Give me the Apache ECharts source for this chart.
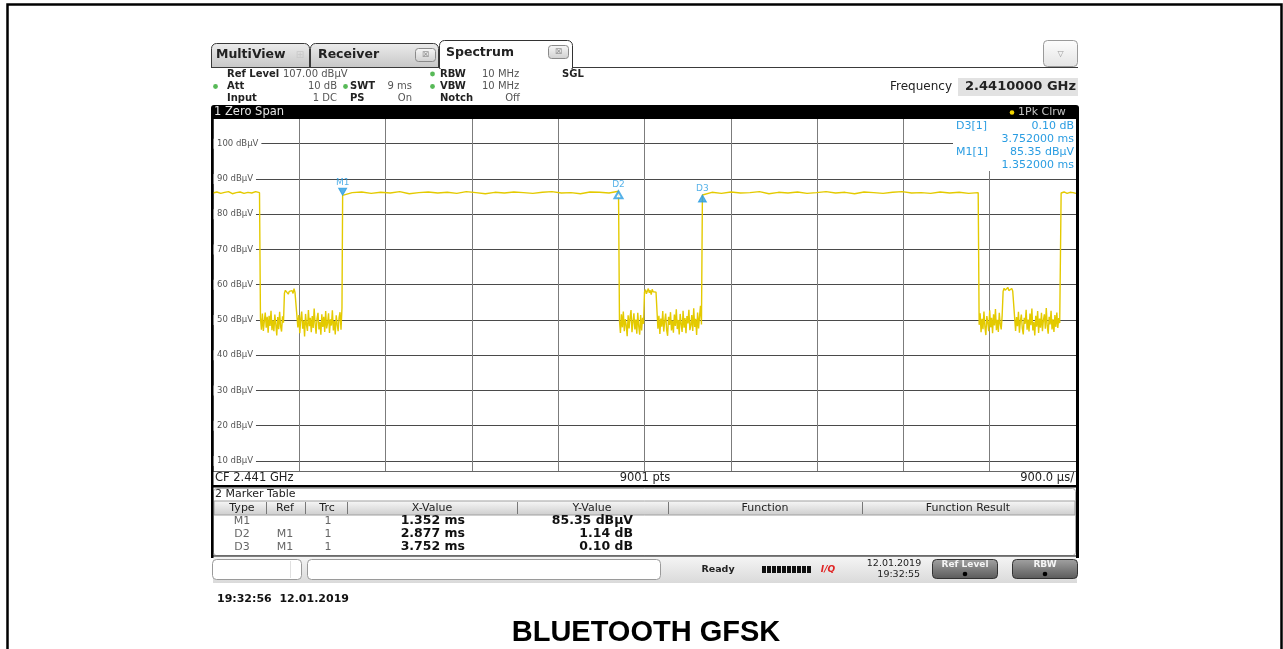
<!DOCTYPE html>
<html><head><meta charset="utf-8">
<script src="https://cdn.jsdelivr.net/npm/echarts@6/dist/echarts.min.js"></script>
<style>html,body{margin:0;padding:0;background:#fff}#c{width:1283px;height:649px}</style>
</head><body><div id="c"></div>
<script>
// ================= DATA =================
// Zero-span trace, level in dBµV, time in ms; each segment is sampled evenly between start and end
const hi1  = [86.0, 86.3, 85.9, 86.2, 86.4, 85.8, 86.1, 86.3, 85.9, 86.2, 86.0, 86.4, 86.1];
const lo1a = [50.5, 47.2, 51.8, 46.9, 49.6, 52.1, 47.8, 50.9, 46.4, 51.2, 48.3, 52.6, 47.1, 49.9, 46.8, 51.5, 48.7, 45.6, 50.8, 47.4, 52.3, 48.1, 46.7, 51.0, 49.2];
const mid1 = [57.6, 58.4, 57.9, 58.8, 57.3, 58.1, 58.6, 57.7, 58.3, 57.5, 58.9, 57.8, 58.2, 57.4];
const lo1b = [47.9, 51.4, 46.2, 50.3, 52.4, 47.5, 49.8, 45.3, 51.7, 48.6, 46.9, 52.8, 48.2, 50.6, 46.5, 51.1, 47.7, 53.2, 48.9, 46.1, 50.4, 52.0, 47.3, 49.4, 45.8, 51.6, 48.0, 50.9, 46.6, 52.5, 47.6, 49.1, 51.9, 46.3, 50.2, 48.4, 52.7, 47.0, 49.7, 45.9, 51.3, 48.8, 46.8, 50.7, 52.2, 47.2, 53.4];
const hi2  = [85.35, 86.1, 86.3, 85.9, 86.2, 86.0, 86.4, 85.8, 86.1, 86.3, 86.0, 86.2, 85.9, 86.4, 86.1, 85.8, 86.2, 86.0, 86.3, 86.1, 85.9, 86.2, 86.4, 86.0, 86.1, 85.8, 86.3, 86.2, 86.0, 86.49];
const lo2a = [49.8, 46.3, 51.6, 47.9, 52.4, 46.8, 50.2, 48.5, 45.4, 51.3, 47.6, 50.7, 52.8, 46.5, 49.3, 51.9, 47.3, 50.1, 46.1, 52.0, 48.2, 45.8, 51.4, 47.0, 50.6, 48.9];
const mid2 = [57.9, 58.6, 57.4, 58.2, 58.9, 57.7, 58.4, 57.2, 58.7, 58.0, 57.6, 58.5, 57.9, 58.3];
const lo2b = [47.5, 51.2, 46.0, 50.4, 48.1, 52.5, 46.7, 49.5, 51.8, 47.2, 45.5, 50.9, 48.6, 52.2, 47.0, 49.8, 46.4, 51.5, 48.3, 53.0, 47.4, 50.0, 45.9, 51.7, 48.8, 46.6, 52.6, 47.8, 50.5, 46.2, 51.1, 49.0, 52.9, 47.1, 48.4, 51.4, 46.9, 53.3, 48.0, 50.3, 45.7, 52.1, 47.6, 51.0, 54.0, 48.7];
const hi3  = [85.45, 86.2, 85.9, 86.3, 86.0, 86.1, 86.4, 85.8, 86.2, 86.0, 86.3, 85.9, 86.1, 86.4, 86.0, 86.2, 85.8, 86.3, 86.1, 85.9, 86.2, 86.4, 86.0, 86.1, 85.9, 86.3, 86.0, 86.2, 85.9, 86.1];
const lo3a = [48.6, 51.9, 46.5, 50.3, 47.4, 52.4, 48.0, 45.7, 51.1, 49.2, 46.8, 52.7, 47.9, 50.6, 46.2, 51.6, 48.4, 53.1, 47.1, 50.0, 46.6, 52.0, 48.8, 47.3, 51.3];
const mid3 = [58.1, 59.0, 58.4, 58.8, 57.9, 59.2, 58.3, 58.6, 57.8, 58.9, 58.2, 58.5, 57.9];
const lo3b = [46.9, 50.8, 48.2, 52.3, 46.4, 49.7, 51.5, 47.6, 45.9, 50.6, 48.9, 52.9, 47.2, 50.1, 46.7, 51.8, 48.5, 53.2, 47.0, 49.4, 45.6, 51.2, 48.1, 52.5, 46.3, 50.4, 47.8, 52.0, 46.8, 49.9, 51.6, 47.5, 53.4, 48.3, 46.1, 50.9, 48.7, 52.6, 47.3, 50.2, 46.6, 51.4, 48.0, 52.1, 47.7, 50.5, 49.1];
const hi4  = [86.0, 86.3, 85.9, 86.2, 86.1, 85.9];

const segValues = [hi1, lo1a, mid1, lo1b, hi2, lo2a, mid2, lo2b, hi3, lo3a, mid3, lo3b, hi4];
const segStart  = [0, 0.495, 0.745, 0.885, 1.352, 4.239, 4.50, 4.64, 5.104, 7.99, 8.24, 8.37, 8.845];
const segEnd    = [0.485, 0.735, 0.875, 1.345, 4.229, 4.49, 4.63, 5.094, 7.98, 8.23, 8.36, 8.83, 9.0];

// Axes
const yTicks = [10, 20, 30, 40, 50, 60, 70, 80, 90, 100];
const yMin = 7, yMax = 107;          // ref level 107 dBµV, 10 dB/div
const xMin = 0, xMax = 9, xDiv = 0.9; // 900 µs/div

// Markers (M1 absolute; D2/D3 deltas to M1)
const markerNames = ['M1', 'D2', 'D3'];
const markerRef   = ['', 'M1', 'M1'];
const markerX     = [1.352, 2.877, 3.752];
const markerY     = [85.35, 1.14, 0.10];

// ================= BUILD =================
const tracePts = [];
segValues.forEach((vals, i) => {
  const t0 = segStart[i], t1 = segEnd[i], n = vals.length;
  vals.forEach((v, k) => tracePts.push([t0 + (t1 - t0) * k / (n - 1), v]));
});
const mAbsX = markerX.map((v, i) => i === 0 ? v : markerX[0] + v);
const mAbsY = markerY.map((v, i) => i === 0 ? v : markerY[0] + v);

const FONT = '"DejaVu Sans", Verdana, sans-serif';
const BLUE = '#2a9de2';
function txt(x, y, s, size, o) {
  o = o || {};
  const al = o.align || 'left';
  return {type: 'text', x: x, y: y, z: o.z || 20, silent: true,
    style: {text: s, fill: o.color || '#222',
      font: (o.italic ? 'italic ' : '') + (o.bold ? 'bold ' : '') + size + 'px ' + (o.family || FONT),
      textAlign: al, align: al, textVerticalAlign: 'middle', verticalAlign: 'middle'}};
}
function rect(x, y, w, h, fill, stroke, r, z, lw) {
  return {type: 'rect', z: z || 15, silent: true, shape: {x: x, y: y, width: w, height: h, r: r || 0},
    style: {fill: fill || 'none', stroke: stroke || 'none', lineWidth: lw || 1}};
}
function line(x1, y1, x2, y2, stroke, lw, z) {
  return {type: 'line', z: z || 16, silent: true, shape: {x1: x1, y1: y1, x2: x2, y2: y2}, style: {stroke: stroke, lineWidth: lw || 1}};
}
function circ(cx, cy, r, fill, z) {
  return {type: 'circle', z: z || 20, silent: true, shape: {cx: cx, cy: cy, r: r}, style: {fill: fill}};
}
function grad(c1, c2) {
  return {type: 'linear', x: 0, y: 0, x2: 0, y2: 1, colorStops: [{offset: 0, color: c1}, {offset: 1, color: c2}]};
}

const G = [];
// outer frame
G.push(rect(7.5, 4.5, 1274, 665, 'none', '#000', 0, 5, 2.5));
// tabs
G.push(rect(211.5, 43.5, 98, 24, grad('#ececec', '#c6c6c6'), '#3a3a3a', [5, 5, 0, 0]));
G.push(txt(216, 55, 'MultiView', 12.5, {bold: true}));
G.push(txt(300, 55, '⊞', 10, {color: '#c8c8c8', align: 'center'}));
G.push(rect(310.5, 43.5, 128, 24, grad('#ececec', '#c6c6c6'), '#3a3a3a', [5, 5, 0, 0]));
G.push(txt(318, 55, 'Receiver', 12.5, {bold: true}));
G.push(rect(415.5, 48.5, 20, 13, grad('#f8f8f8', '#cfcfcf'), '#8a8a8a', 3));
G.push(txt(425.5, 55, '⊠', 9, {color: '#999', align: 'center'}));
G.push(rect(439.5, 40.5, 133, 28, '#fff', '#333', [5, 5, 0, 0]));
G.push(rect(440.5, 66, 131, 4, '#fff', 'none', 0, 17));
G.push(txt(446, 53, 'Spectrum', 12.5, {bold: true}));
G.push(rect(548.5, 45.5, 20, 13, grad('#f8f8f8', '#cfcfcf'), '#8a8a8a', 3));
G.push(txt(558.5, 52, '⊠', 9, {color: '#999', align: 'center'}));
G.push(line(211, 67.5, 440, 67.5, '#3a3a3a', 1.2));
G.push(line(572, 67.5, 1078, 67.5, '#3a3a3a', 1.2));
G.push(rect(1043.5, 40.5, 34, 26, grad('#fdfdfd', '#e4e4e4'), '#9a9a9a', 4));
G.push(txt(1060.5, 54, '▽', 8, {color: '#999', align: 'center'}));
// header parameter text
const r1 = 74, r2 = 86.5, r3 = 98.5, HS = 10;
G.push(txt(227, r1, 'Ref Level', HS, {bold: true}));
G.push(txt(283, r1, '107.00 dBµV', HS, {color: '#555'}));
G.push(circ(432.5, r1, 2.4, '#57b957'));
G.push(txt(440, r1, 'RBW', HS, {bold: true}));
G.push(txt(482, r1, '10 MHz', HS, {color: '#555'}));
G.push(txt(562, r1, 'SGL', HS, {bold: true}));
G.push(circ(215.5, r2, 2.4, '#57b957'));
G.push(txt(227, r2, 'Att', HS, {bold: true}));
G.push(txt(337, r2, '10 dB', HS, {color: '#555', align: 'right'}));
G.push(circ(345.5, r2, 2.4, '#57b957'));
G.push(txt(350, r2, 'SWT', HS, {bold: true}));
G.push(txt(412, r2, '9 ms', HS, {color: '#555', align: 'right'}));
G.push(circ(432.5, r2, 2.4, '#57b957'));
G.push(txt(440, r2, 'VBW', HS, {bold: true}));
G.push(txt(482, r2, '10 MHz', HS, {color: '#555'}));
G.push(txt(227, r3, 'Input', HS, {bold: true}));
G.push(txt(337, r3, '1 DC', HS, {color: '#555', align: 'right'}));
G.push(txt(350, r3, 'PS', HS, {bold: true}));
G.push(txt(412, r3, 'On', HS, {color: '#555', align: 'right'}));
G.push(txt(440, r3, 'Notch', HS, {bold: true}));
G.push(txt(520, r3, 'Off', HS, {color: '#555', align: 'right'}));
G.push(txt(952, 87, 'Frequency', 12, {align: 'right'}));
G.push(rect(958, 78, 120, 18, '#e2e2e2', 'none', 0));
G.push(txt(1076, 87, '2.4410000 GHz', 13, {bold: true, align: 'right'}));
// title bar of diagram
G.push(rect(211, 105, 868, 14, '#000', 'none', [3, 3, 0, 0], 18));
G.push(txt(214, 112, '1 Zero Span', 11.5, {color: '#e6e6e6', z: 19}));
G.push(circ(1012, 112.5, 2.3, '#f2d400', 19));
G.push(txt(1018, 112, '1Pk Clrw', 11, {color: '#c4c4c4', z: 19}));
// diagram frame
G.push(rect(211, 118, 2.5, 440, '#000', 'none', 0, 18));
G.push(rect(1076, 118, 3, 440, '#000', 'none', 0, 18));
G.push(line(213, 471.5, 1076, 471.5, '#666', 1));
G.push(rect(211, 485, 868, 2.5, '#000', 'none', 0, 18));
G.push(txt(215, 478.5, 'CF 2.441 GHz', 11.5));
G.push(txt(645, 478.5, '9001 pts', 11.5, {align: 'center'}));
G.push(txt(1074, 478.5, '900.0 µs/', 11.5, {align: 'right'}));
// marker info box
G.push(rect(953, 119, 123, 52, '#fff', 'none', 0, 12));
G.push(txt(956, 126, 'D3[1]', 11, {color: BLUE}));
G.push(txt(1074, 126, markerY[2].toFixed(2) + ' dB', 11, {color: BLUE, align: 'right'}));
G.push(txt(1074, 139, markerX[2].toFixed(6) + ' ms', 11, {color: BLUE, align: 'right'}));
G.push(txt(956, 152, 'M1[1]', 11, {color: BLUE}));
G.push(txt(1074, 152, markerY[0].toFixed(2) + ' dBµV', 11, {color: BLUE, align: 'right'}));
G.push(txt(1074, 165, markerX[0].toFixed(6) + ' ms', 11, {color: BLUE, align: 'right'}));
// marker table
G.push(txt(215, 494.5, '2 Marker Table', 11));
G.push(rect(213.5, 488.5, 862, 67, 'none', '#b0b0b0', 3));
G.push(line(213, 556, 1077, 556, '#555', 1.5));
G.push(rect(214, 501, 861, 14, grad('#f8f8f8', '#cdcdcd'), '#a0a0a0', 0));
[266, 305, 347, 517, 668, 862].forEach(x => G.push(line(x + 0.5, 502, x + 0.5, 514, '#777', 1)));
const hy = 508.5;
G.push(txt(242, hy, 'Type', 11, {align: 'center'}));
G.push(txt(285, hy, 'Ref', 11, {align: 'center'}));
G.push(txt(327, hy, 'Trc', 11, {align: 'center'}));
G.push(txt(432, hy, 'X-Value', 11, {align: 'center'}));
G.push(txt(592, hy, 'Y-Value', 11, {align: 'center'}));
G.push(txt(765, hy, 'Function', 11, {align: 'center'}));
G.push(txt(968, hy, 'Function Result', 11, {align: 'center'}));
const rowY = [521, 534, 547];
markerNames.forEach((nm, i) => {
  const y = rowY[i];
  G.push(txt(242, y, nm, 11, {color: '#666', align: 'center'}));
  if (markerRef[i]) G.push(txt(285, y, markerRef[i], 11, {color: '#666', align: 'center'}));
  G.push(txt(328, y, '1', 11, {color: '#666', align: 'center'}));
  G.push(txt(465, y, markerX[i].toFixed(3) + ' ms', 12.5, {bold: true, align: 'right', color: '#111'}));
  G.push(txt(633, y, markerY[i].toFixed(2) + (i === 0 ? ' dBµV' : ' dB'), 12.5, {bold: true, align: 'right', color: '#111'}));
});
// status bar
G.push(rect(213, 557, 864, 26, grad('#f4f4f4', '#dadada'), 'none', 0, 14));
G.push(rect(212.5, 559.5, 89, 20, '#fff', '#9a9a9a', 4));
G.push(line(290.5, 561, 290.5, 578, '#e0e0e0', 1));
G.push(rect(307.5, 559.5, 353, 20, '#fff', '#9a9a9a', 4));
G.push(txt(718, 570, 'Ready', 9.5, {bold: true, align: 'center'}));
for (let k = 0; k < 10; k++) G.push(rect(762 + k * 5, 566, 4, 7, '#111', 'none', 0, 20));
G.push(txt(828, 569.5, 'I/Q', 9, {bold: true, italic: true, color: '#e02424', align: 'center'}));
G.push(txt(894, 564, '12.01.2019', 9.5, {align: 'center'}));
G.push(txt(920, 575, '19:32:55', 9.5, {align: 'right'}));
[[932.5, 'Ref Level'], [1012.5, 'RBW']].forEach(b => {
  G.push(rect(b[0], 559.5, 65, 19, grad('#a2a2a2', '#5a5a5a'), '#333', 4, 18));
  G.push(txt(b[0] + 32.5, 565, b[1], 9, {bold: true, color: '#f4f4f4', align: 'center', z: 21}));
  G.push(circ(b[0] + 32.5, 574, 2.3, '#000', 21));
});
// footer
G.push(txt(217, 599.5, '19:32:56  12.01.2019', 11, {bold: true, color: '#111'}));
G.push(txt(646, 633, 'BLUETOOTH GFSK', 29, {bold: true, color: '#000', align: 'center', family: '"Liberation Sans", Arial, sans-serif'}));

const markerSeries = markerNames.map((nm, i) => {
  const down = i === 0;
  return {
    type: 'scatter', name: nm, data: [[mAbsX[i], mAbsY[i]]], z: 6, silent: true,
    symbol: down ? 'path://M0,0L10,0L5,9Z' : (i === 1 ? 'emptyTriangle' : 'triangle'),
    symbolSize: [8, 7], symbolOffset: down ? [0, -3.5] : [0, 3.5],
    itemStyle: {color: BLUE, borderColor: BLUE},
    label: {show: true, position: 'top', distance: 1, formatter: nm, color: BLUE, fontSize: 9, fontFamily: FONT}
  };
});

const chart = echarts.init(document.getElementById('c'), null, {renderer: 'canvas'});
chart.setOption({
  animation: false,
  backgroundColor: '#fff',
  grid: {left: 213, top: 119, width: 863, height: 352.5, outerBoundsMode: 'none'},
  xAxis: {type: 'value', min: xMin, max: xMax, interval: xDiv,
    axisLine: {show: false}, axisTick: {show: false}, axisLabel: {show: false},
    splitLine: {show: true, lineStyle: {color: '#7c7c7c', width: 1}}},
  yAxis: {type: 'value', min: yMin, max: yMax,
    axisLine: {show: false}, axisTick: {show: false, customValues: yTicks},
    axisLabel: {inside: true, customValues: yTicks, formatter: v => v + ' dBµV', color: '#555',
      fontSize: 8.5, fontFamily: FONT, backgroundColor: '#fff', padding: [1, 3, 0, 4], margin: 0},
    splitLine: {show: true, lineStyle: {color: '#4a4a4a', width: 1}}},
  series: [{
    type: 'line', name: 'trace', data: tracePts, symbol: 'none', showSymbol: false, silent: true,
    lineStyle: {color: '#e4ca00', width: 1.4}, z: 3
  }].concat(markerSeries),
  graphic: {elements: G}
});
</script></body></html>
